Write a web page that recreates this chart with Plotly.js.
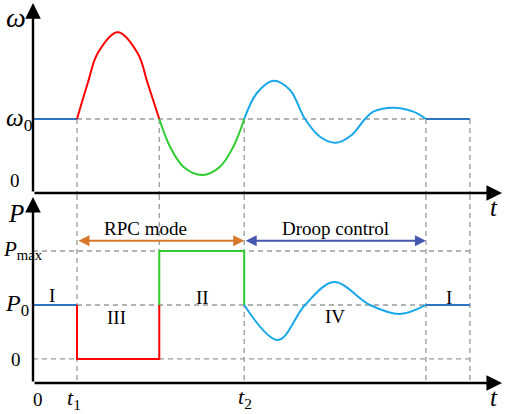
<!DOCTYPE html>
<html><head><meta charset="utf-8">
<script src="https://cdn.plot.ly/plotly-3.0.1.min.js"></script>
<style>html,body{margin:0;padding:0;background:#fff}#chart{width:505px;height:414px}</style>
</head><body><div id="chart"></div>
<script>
// ---- key instants on the time axis (t1, end of RPC stage III, t2, end of droop, end of plot) ----
const tOrigin = 0, t1 = 1, tA = 2.87, t2 = 4.8, t3 = 8.93, tEnd = 9.93, tAxisEnd = 10.66;
// ---- levels ----
const w0 = 1;            // omega_0
const P0 = 1, Pmax = 2, Pzero = 0;

// ---- top panel: angular frequency omega ----
const wFlat1X = [tOrigin, t1];          const wFlat1Y = [w0, w0];
const wRedX   = [1, 1.243, 1.470, 1.925, 2.379, 2.606, 2.87];
const wRedY   = [1, 1.576, 2.06, 2.398, 2.06, 1.576, 1];
const wGreenX = [2.87, 3.114, 3.416, 3.848, 4.25, 4.553, 4.8];
const wGreenY = [1, 0.553, 0.231, 0.097, 0.231, 0.553, 1];
const wCyanX  = [4.8, 5.084, 5.461, 5.841, 6.182, 6.523, 6.886, 7.243, 7.545, 7.734, 8.189, 8.643, 8.93];
const wCyanY  = [1, 1.415, 1.618, 1.468, 1, 0.714, 0.617, 0.742, 1, 1.118, 1.182, 1.118, 1];
const wFlat2X = [t3, tEnd];             const wFlat2Y = [w0, w0];

// ---- bottom panel: active power P ----
const pFlat1X = [tOrigin, t1];          const pFlat1Y = [P0, P0];
const pRedX   = [t1, t1, tA, tA];       const pRedY   = [P0, Pzero, Pzero, P0];
const pGreenX = [tA, tA, t2, t2];       const pGreenY = [P0, Pmax, Pmax, P0];
const pCyanX  = [4.8, 5.568, 6.182, 6.841, 7.659, 8.341, 8.93];
const pCyanY  = [1, 0.352, 1, 1.426, 1, 0.833, 1];
const pFlat2X = [t3, tEnd];             const pFlat2Y = [P0, P0];

const regionLabels = ['I', 'III', 'II', 'IV', 'I'];
const modeLabels = ['RPC mode', 'Droop control'];

const RED = '#ff0000', GREEN = '#2fcc2f', CYAN = '#1aa8ec', DBLUE = '#2e74c2';
const GRID = '#9a9a9a';
const FONT = 'Liberation Serif, DejaVu Serif, Times New Roman, serif';

const yTopMin = -0.226, yTopMax = 2.919, yTopAxis = -0.194, yTopTip = 2.87;
const yBotMin = -1.019, yBotMax = 3.037, yBotAxis = -0.444, yBotTip = 3.0;

function line(x, y, color, yaxis, spline) {
  return {x: x, y: y, xaxis: 'x', yaxis: yaxis, mode: 'lines', hoverinfo: 'skip',
    line: {color: color, width: 2, shape: spline ? 'spline' : 'linear', smoothing: 1}};
}
const data = [
  line(wFlat1X, wFlat1Y, DBLUE, 'y'),
  line(wRedX, wRedY, RED, 'y', true),
  line(wGreenX, wGreenY, GREEN, 'y', true),
  line(wCyanX, wCyanY, CYAN, 'y', true),
  line(wFlat2X, wFlat2Y, DBLUE, 'y'),
  line(pFlat1X, pFlat1Y, DBLUE, 'y2'),
  line(pRedX, pRedY, RED, 'y2'),
  line(pGreenX, pGreenY, GREEN, 'y2'),
  line(pCyanX, pCyanY, CYAN, 'y2', true),
  line(pFlat2X, pFlat2Y, DBLUE, 'y2')
];

function dash(x0, y0, x1, y1, yref) {
  return {type: 'line', xref: 'x', yref: yref, x0: x0, y0: y0, x1: x1, y1: y1, layer: 'below',
    line: {color: GRID, width: 1.3, dash: '5px,4px'}};
}
const shapes = [
  // top panel
  dash(t1, w0, t3, w0, 'y'),
  dash(t1, w0, t1, yTopMin, 'y'),
  dash(tA, w0, tA, yTopMin, 'y'),
  dash(t2, w0, t2, yTopMin, 'y'),
  dash(t3, w0, t3, yTopMin, 'y'),
  dash(tEnd, w0, tEnd, yTopMin, 'y'),
  // bottom panel
  dash(tOrigin, Pmax, tEnd, Pmax, 'y2'),
  dash(t1, P0, tEnd, P0, 'y2'),
  dash(tOrigin, Pzero, tEnd, Pzero, 'y2'),
  dash(t1, yBotMax, t1, yBotAxis, 'y2'),
  dash(tA, yBotMax, tA, Pmax, 'y2'),
  dash(t2, yBotMax, t2, yBotAxis, 'y2'),
  dash(t3, yBotMax, t3, yBotAxis, 'y2'),
  dash(tEnd, yBotMax, tEnd, yBotAxis, 'y2')
];

function arrow(x, y, ax, ay, yref, color, width, both) {
  return {x: x, y: y, ax: ax, ay: ay, xref: 'x', yref: yref, axref: 'x', ayref: yref,
    text: '', showarrow: true, arrowhead: 2, arrowsize: both ? 1.1 : 1.3, arrowwidth: width,
    arrowcolor: color, arrowside: both ? 'end+start' : 'end', standoff: 0, startstandoff: 0};
}
function at(px, py, text, size, extra) {
  return Object.assign({x: px / 505, y: 1 - py / 414, xref: 'paper', yref: 'paper',
    text: text, showarrow: false, xanchor: 'center', yanchor: 'middle',
    font: {family: FONT, size: size, color: '#000'}}, extra || {});
}

const annotations = [
  // axes
  arrow(tOrigin, yTopTip, tOrigin, yTopAxis, 'y', '#000', 2.4),
  arrow(tAxisEnd, yTopAxis, tOrigin, yTopAxis, 'y', '#000', 2.4),
  arrow(tOrigin, yBotTip, tOrigin, yBotAxis, 'y2', '#000', 2.4),
  arrow(tAxisEnd, yBotAxis, tOrigin, yBotAxis, 'y2', '#000', 2.4),
  // mode arrows
  arrow(t2, 2.19, t1, 2.19, 'y2', '#d6782c', 2, true),
  arrow(t3, 2.19, t2, 2.19, 'y2', '#4657b0', 2, true),
  at(145, 228, modeLabels[0], 19),
  at(335, 228, modeLabels[1], 19),
  // axis labels
  at(16, 18, '<i>ω</i>', 28),
  at(19, 120, '<i>ω</i><sub>0</sub>', 25),
  at(15, 181, '0', 19),
  at(16, 214, '<i>P</i>', 25),
  at(1, 250, '<i>P</i><sub>max</sub>', 21, {xanchor: 'left'}),
  at(17, 305, '<i>P</i><sub>0</sub>', 24),
  at(16, 359, '0', 19),
  at(38, 399, '0', 19),
  at(74, 399, '<i>t</i><sub>1</sub>', 22),
  at(245, 398, '<i>t</i><sub>2</sub>', 22),
  at(494, 207, '<i>t</i>', 25),
  at(494, 397, '<i>t</i>', 25),
  // region labels
  at(52, 295, regionLabels[0], 19),
  at(116, 317, regionLabels[1], 19),
  at(202, 297, regionLabels[2], 19),
  at(335, 316, regionLabels[3], 19),
  at(449, 297, regionLabels[4], 19)
];

const layout = {
  width: 505, height: 414, margin: {l: 0, r: 0, t: 0, b: 0},
  paper_bgcolor: '#fff', plot_bgcolor: '#fff', showlegend: false, hovermode: false,
  font: {family: FONT},
  xaxis: {range: [-0.75, 10.727], visible: false, fixedrange: true},
  yaxis: {domain: [0.529, 1], range: [yTopMin, yTopMax], visible: false, fixedrange: true},
  yaxis2: {domain: [0, 0.529], range: [yBotMin, yBotMax], visible: false, fixedrange: true},
  shapes: shapes, annotations: annotations
};
Plotly.newPlot('chart', data, layout, {staticPlot: true, displayModeBar: false});
</script></body></html>
